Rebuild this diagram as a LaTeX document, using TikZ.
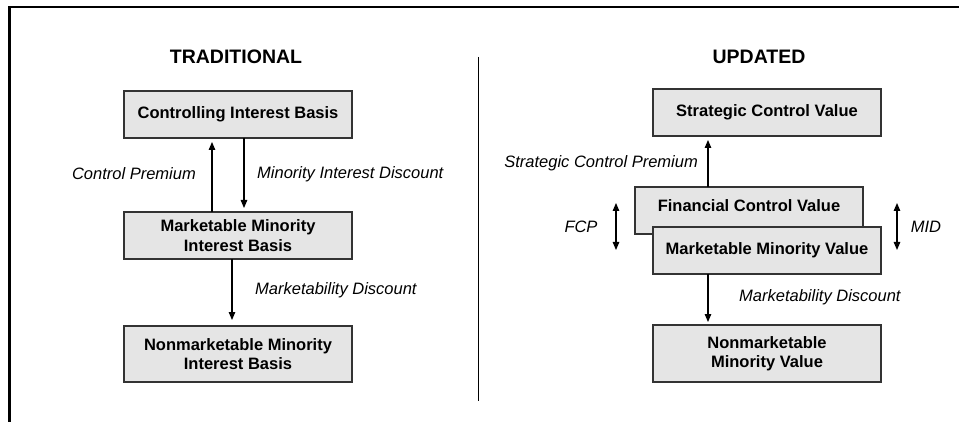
\documentclass[tikz,border=0pt]{standalone}
\usepackage{fontspec}
\setmainfont{Liberation Sans}
\usetikzlibrary{arrows.meta}
\begin{document}
\begin{tikzpicture}[x=1pt,y=-1pt,
  box/.style={draw=black!80,fill=black!10,line width=1.1pt,minimum width=228pt,align=center,font=\bfseries\fontsize{16.5}{18.5}\selectfont,inner sep=0pt},
  lbl/.style={font=\itshape\fontsize{16.5}{19}\selectfont,inner sep=0pt},
  ttl/.style={font=\bfseries\fontsize{19.5}{22}\selectfont,inner sep=0pt},
  arr/.style={line width=1.1pt,-{Triangle[length=8pt,width=6.5pt]}},
  darr/.style={line width=1.1pt,{Triangle[length=8pt,width=6.5pt]}-{Triangle[length=8pt,width=6.5pt]}}]
\useasboundingbox (0,0) rectangle (959,422);
% frame
\draw[line width=2.6pt] (9.5,422) -- (9.5,7) -- (959,7);
% divider
\draw[line width=1pt] (478.5,57) -- (478.5,401);
% titles
\node[ttl] (t1) at (236,57) {TRADITIONAL};
\node[ttl] (t2) at (759,57) {UPDATED};
% left boxes
\node[box,minimum height=47pt] (cib) at (238,114.5) {Controlling Interest Basis};
\node[box,minimum height=47pt] (mmib) at (238,235.5) {Marketable Minority\\[1pt]Interest Basis};
\node[box,minimum height=56pt] (nmib) at (238,354) {Nonmarketable Minority\\[1pt]Interest Basis};
\coordinate (cpS) at (212,212);
\coordinate (cpE) at (212,142);
\draw[arr] (cpS) -- (cpE);
\coordinate (midS) at (244,138);
\coordinate (midE) at (244,208);
\draw[arr] (midS) -- (midE);
\coordinate (mdS) at (232,259);
\coordinate (mdE) at (232,320);
\draw[arr] (mdS) -- (mdE);
\node[lbl,anchor=east] (lcp) at (196,174) {Control Premium};
\node[lbl,anchor=west] (lmid) at (257,174) {Minority Interest Discount};
\node[lbl,anchor=west] (lmd) at (255,290) {Marketability Discount};
% right boxes
\node[box,minimum height=47pt] (scv) at (767,112.5) {Strategic Control Value};
\node[box,minimum height=47pt,text height=12pt,text depth=9pt] (fcv) at (749,210.5) {Financial Control Value};
\node[box,minimum height=47pt] (mmv) at (767,250.5) {Marketable Minority Value};
\node[box,minimum height=57pt] (nmv) at (767,353.5) {Nonmarketable\\[1pt]Minority Value};
\coordinate (scpS) at (708,187);
\coordinate (scpE) at (708,140);
\draw[arr] (scpS) -- (scpE);
\coordinate (md2S) at (708,274);
\coordinate (md2E) at (708,322);
\draw[arr] (md2S) -- (md2E);
\coordinate (fcpA) at (616,203);
\coordinate (fcpB) at (616,250);
\draw[darr] (fcpA) -- (fcpB);
\coordinate (midA) at (897,203);
\coordinate (midB) at (897,250);
\draw[darr] (midA) -- (midB);
\node[lbl,anchor=east] (lscp) at (698,163) {Strategic Control Premium};
\node[lbl] (lfcp) at (581,227) {FCP};
\node[lbl] (lmid2) at (926,227) {MID};
\node[lbl,anchor=west] (lmd2) at (739,297) {Marketability Discount};
\end{tikzpicture}
\end{document}
